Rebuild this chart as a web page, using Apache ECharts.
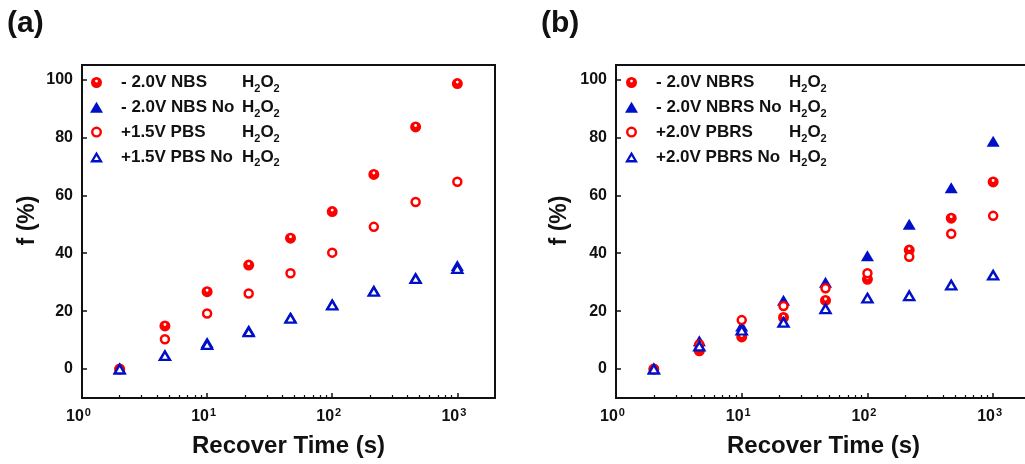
<!DOCTYPE html>
<html>
<head>
<meta charset="utf-8">
<script src="https://cdn.jsdelivr.net/npm/echarts@6/dist/echarts.min.js"></script>
<style>
  html, body { margin: 0; padding: 0; background: #fff; }
  #chart { width: 1025px; height: 464px; }
</style>
</head>
<body>
<div id="chart"></div>
<script>
// Recovery times (s), shared by both panels
const recoverTime = [2, 4.6, 10, 21.5, 46.4, 100, 215, 464, 1000];

// Panel (a): f (%)
const nbsH2O2    = [0, 14.9, 26.7, 35.9, 45.2, 54.4, 67.2, 83.6, 98.6];
const nbsNoH2O2  = [0, 4.8, 9.2, 13.4, 17.9, 22.5, 27.1, 31.5, 35.8];
const pbsH2O2    = [0, 10.3, 19.2, 26.1, 33.1, 40.2, 49.1, 57.7, 64.7];
const pbsNoH2O2  = [0, 4.6, 8.4, 12.8, 17.5, 22.1, 26.8, 31.2, 34.7];

// Panel (b): f (%)
const nbrsH2O2   = [0, 6.3, 11.1, 17.8, 23.7, 31.0, 41.1, 52.1, 64.6];
const nbrsNoH2O2 = [0, 9.8, 14.9, 23.8, 30.0, 39.1, 50.0, 62.6, 78.7];
const pbrsH2O2   = [0, 8.5, 16.9, 21.8, 27.9, 33.1, 38.8, 46.7, 52.9];
const pbrsNoH2O2 = [0, 7.9, 13.4, 16.1, 20.8, 24.5, 25.3, 29.0, 32.4];

// Series labels
const namesA = ['- 2.0V NBS H2O2', '- 2.0V NBS No H2O2', '+1.5V PBS H2O2', '+1.5V PBS No H2O2'];
const namesB = ['- 2.0V NBRS H2O2', '- 2.0V NBRS No H2O2', '+2.0V PBRS H2O2', '+2.0V PBRS No H2O2'];
const panelTitles = ['(a)', '(b)'];

// Axis ticks
const xMajorTicks = [1, 10, 100, 1000];
const yTicks = [0, 20, 40, 60, 80, 100];
const xName = 'Recover Time (s)';
const yName = 'f (%)';

const ink = '#111';
const red = '#ff0000';
const blue = '#0010c8';
const font = "'Liberation Sans', Arial, Helvetica, sans-serif";

// log-axis minor ticks: 2..9 within each decade
const xMinorTicks = [];
[1, 10, 100, 1000].forEach(d => {
  for (let m = 2; m <= 9; m++) if (m * d < 2000) xMinorTicks.push(m * d);
});

// Marker shapes
const dotCircle = 'path://M0,-10A10,10,0,1,1,0,10A10,10,0,1,1,0,-10ZM0,-5.2A2.6,2.6,0,1,0,0,0A2.6,2.6,0,1,0,0,-5.2Z';
const ringCircle = 'path://M0,-10A10,10,0,1,1,0,10A10,10,0,1,1,0,-10ZM0,-5.6A5.6,5.6,0,1,0,0,5.6A5.6,5.6,0,1,0,0,-5.6Z';
const solidTri = 'path://M6.5,0L13,11L0,11Z';
const ringTri = 'path://M6.5,0L13,11L0,11ZM6.5,4.5L4.05,8.7L8.95,8.7Z';

const markerStyles = [
  { symbol: dotCircle, symbolSize: 11, itemStyle: { color: red, opacity: 1 } },
  { symbol: 'triangle', symbolSize: [13, 11], itemStyle: { color: blue, opacity: 1 } },
  { symbol: 'circle', symbolSize: 8, itemStyle: { color: '#fff', borderColor: red, borderWidth: 2.5, opacity: 1 } },
  { symbol: 'triangle', symbolSize: [10, 8.5], itemStyle: { color: '#fff', borderColor: blue, borderWidth: 2.4, opacity: 1 } }
];
const legendIcons = [
  { icon: dotCircle, color: red },
  { icon: solidTri, color: blue },
  { icon: ringCircle, color: red },
  { icon: ringTri, color: blue }
];

function pairs(ys) { return recoverTime.map((t, i) => [t, ys[i]]); }

function makeSeries(names, values, axisIdx) {
  return names.map((name, k) => Object.assign({
    type: 'scatter',
    name,
    xAxisIndex: axisIdx,
    yAxisIndex: axisIdx / 2,
    data: pairs(values[k]),
    emphasis: { disabled: true },
    z: 3 + k
  }, markerStyles[k]));
}

const baseText = { fontFamily: font, fontWeight: 'bold', color: ink };

function xAxes(gridIndex) {
  return [{
    type: 'log', logBase: 10, gridIndex, min: 1, max: 2000, position: 'bottom',
    name: xName, nameLocation: 'middle', nameGap: 36, nameMoveOverlap: false,
    nameTextStyle: Object.assign({ fontSize: 24 }, baseText),
    axisLine: { show: true, onZero: false, lineStyle: { color: ink, width: 2 } },
    axisTick: { show: true, inside: true, length: 5, customValues: xMajorTicks, lineStyle: { color: ink, width: 1.5 } },
    minorTick: { show: false },
    splitLine: { show: false },
    axisLabel: {
      customValues: xMajorTicks, margin: 9,
      formatter: v => '{b|10}{s|' + Math.round(Math.log10(v)) + '}',
      rich: {
        b: Object.assign({ fontSize: 16, lineHeight: 20 }, baseText),
        s: Object.assign({ fontSize: 11, lineHeight: 12, verticalAlign: 'top', padding: [0, 7, 0, 1] }, baseText)
      }
    }
  }, {
    type: 'log', logBase: 10, gridIndex, min: 1, max: 2000, position: 'bottom',
    axisLine: { show: false, onZero: false },
    axisTick: { show: true, inside: true, length: 3, customValues: xMinorTicks, lineStyle: { color: ink, width: 1.2 } },
    axisLabel: { show: false },
    splitLine: { show: false }
  }];
}

function yAxis(gridIndex, gap) {
  return {
    type: 'value', gridIndex, min: -10, max: 105, position: 'left',
    name: yName, nameLocation: 'middle', nameGap: gap, nameMoveOverlap: false,
    nameTextStyle: Object.assign({ fontSize: 23, padding: [0, 0, 0, 22] }, baseText),
    axisLine: { show: true, onZero: false, lineStyle: { color: ink, width: 2 } },
    axisTick: { show: true, inside: true, length: 5, customValues: yTicks, lineStyle: { color: ink, width: 1.5 } },
    splitLine: { show: false },
    axisLabel: Object.assign({ customValues: yTicks, margin: 9, fontSize: 16 }, baseText)
  };
}

function legendFor(names, left, colWidth) {
  return {
    orient: 'vertical', left, top: 74, padding: 0, itemGap: 4.3,
    itemWidth: 13, itemHeight: 11, selectedMode: false,
    data: names.map((name, k) => ({
      name, icon: legendIcons[k].icon,
      itemStyle: { color: legendIcons[k].color, borderWidth: 0, opacity: 1 }
    })),
    formatter: name => '{g| }{a|' + name.replace(/H2O2$/, '') + '}{h|H}{s|2}{h|O}{s|2}',
    textStyle: Object.assign({
      fontSize: 17,
      rich: {
        g: Object.assign({ fontSize: 17, width: 13, lineHeight: 24 }, baseText),
        a: Object.assign({ fontSize: 17, width: colWidth, lineHeight: 24 }, baseText),
        h: Object.assign({ fontSize: 17, lineHeight: 24 }, baseText),
        s: Object.assign({ fontSize: 11, lineHeight: 14, verticalAlign: 'bottom' }, baseText)
      }
    }, baseText)
  };
}

const chart = echarts.init(document.getElementById('chart'), null, { renderer: 'canvas' });
chart.setOption({
  animation: false,
  backgroundColor: '#fff',
  title: [
    { text: panelTitles[0], left: 7, top: 9, padding: 0, textStyle: Object.assign({ fontSize: 30 }, baseText) },
    { text: panelTitles[1], left: 541, top: 9, padding: 0, textStyle: Object.assign({ fontSize: 30 }, baseText) }
  ],
  grid: [
    { left: 82, top: 65, width: 413, height: 333, show: true, borderColor: ink, borderWidth: 2, backgroundColor: 'transparent', outerBoundsMode: 'none', containLabel: false },
    { left: 616, top: 65, width: 415, height: 333, show: true, borderColor: ink, borderWidth: 2, backgroundColor: 'transparent', outerBoundsMode: 'none', containLabel: false }
  ],
  xAxis: [...xAxes(0), ...xAxes(1)],
  yAxis: [yAxis(0, 43), yAxis(1, 45)],
  legend: [legendFor(namesA, 90, 121), legendFor(namesB, 625, 133)],
  series: [
    ...makeSeries(namesA, [nbsH2O2, nbsNoH2O2, pbsH2O2, pbsNoH2O2], 0),
    ...makeSeries(namesB, [nbrsH2O2, nbrsNoH2O2, pbrsH2O2, pbrsNoH2O2], 2)
  ]
});
</script>
</body>
</html>
